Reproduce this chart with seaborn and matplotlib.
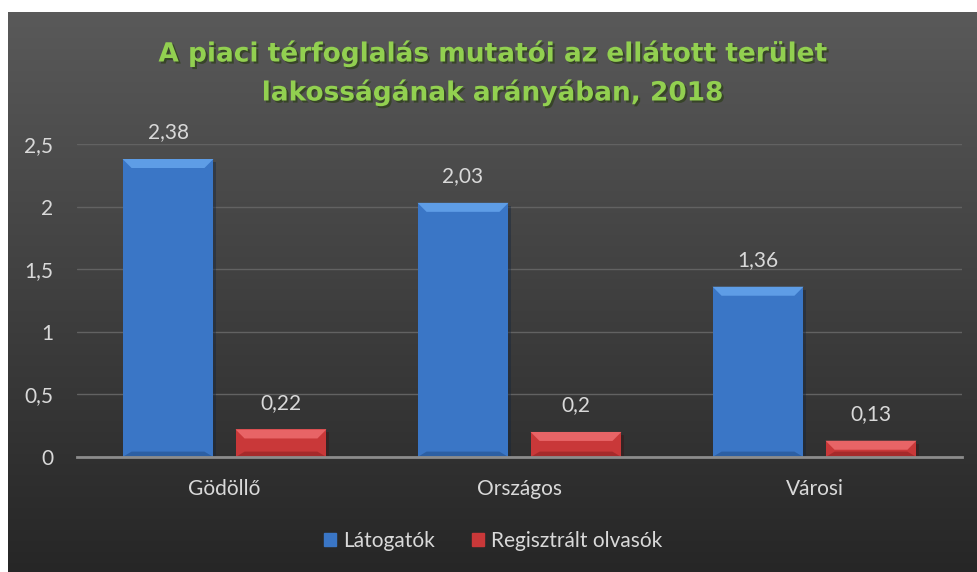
import numpy as np
import pandas as pd
import seaborn as sns
import matplotlib.pyplot as plt
import matplotlib.patheffects as pe
from matplotlib.patches import Polygon

categories = ["Gödöllő", "Országos", "Városi"]
latogatok = [2.38, 2.03, 1.36]
regisztralt = [0.22, 0.2, 0.13]
series = ["Látogatók", "Regisztrált olvasók"]
yticks = [0, 0.5, 1, 1.5, 2, 2.5]

df = pd.DataFrame({
    "kat": categories * 2,
    "ertek": latogatok + regisztralt,
    "sor": [series[0]] * 3 + [series[1]] * 3,
})

szinek = ["#3a76c6", "#c93839"]
vilagos = ["#5e9de6", "#e86466"]
sotet = ["#24508c", "#8e2223"]

sns.set_theme(style="dark")
plt.rcParams['font.family'] = ['Lato', 'DejaVu Sans']

fig = plt.figure(figsize=(9.78, 5.72), dpi=100, facecolor="white")

# dark gradient background (white strip at top and left like the reference)
bg = fig.add_axes([8 / 978, 0, 970 / 978, 560 / 572], zorder=-10)
grad = np.linspace(0.35, 0.15, 256).reshape(-1, 1)
bg.imshow(np.dstack([grad, grad, grad]), aspect="auto", extent=[0, 1, 0, 1])
bg.set_axis_off()

ax = fig.add_axes([77 / 978, (572 - 457) / 572, 885 / 978, 313 / 572])
ax.patch.set_alpha(0)
sns.barplot(data=df, x="kat", y="ertek", hue="sor", ax=ax,
            palette=szinek, width=0.766, gap=0.196,
            saturation=1, edgecolor="none", legend=False)

ax.set_ylim(0, 2.5)
ax.set_yticks(yticks)
ax.set_yticklabels([f"{v:g}".replace(".", ",") for v in yticks])
ax.set_xlabel("")
ax.set_ylabel("")
ax.tick_params(axis="both", colors="#d9d9d9", labelsize=15, length=0)
ax.tick_params(axis="y", pad=17)
ax.tick_params(axis="x", pad=16)
ax.grid(axis="y", color="#626262", linewidth=1)
ax.set_axisbelow(True)
for s in ["top", "right", "left"]:
    ax.spines[s].set_visible(False)
ax.spines["bottom"].set_color("#8c8c8c")
ax.spines["bottom"].set_linewidth(2)

# bevel: lighter top edge, darker bottom, in pixel-sized bands
px_x = 1 / 295.0
px_y = 2.5 / 313.0
for i, cont in enumerate(ax.containers):
    vals = [b.get_height() for b in cont]
    ax.bar_label(cont, labels=[f"{v:g}".replace(".", ",") for v in vals],
                 padding=12, color="#d9d9d9", fontsize=15)
    for b in cont:
        x0, w, h = b.get_x(), b.get_width(), b.get_height()
        dx, dy = 9 * px_x, 9 * px_y
        ax.add_patch(Polygon([(x0, h), (x0 + w, h), (x0 + w - dx, h - dy), (x0 + dx, h - dy)],
                             closed=True, color=vilagos[i], lw=0))
        ax.add_patch(Polygon([(x0, 0), (x0 + w, 0), (x0 + w - dx, dy * 0.6), (x0 + dx, dy * 0.6)],
                             closed=True, color=sotet[i], lw=0, alpha=0.6))
        b.set_path_effects([pe.withSimplePatchShadow(offset=(2, -2), alpha=0.4)])

fig.text(493 / 978, 1 - 73 / 572,
         "A piaci térfoglalás mutatói az ellátott terület\nlakosságának arányában, 2018",
         ha="center", va="center", fontsize=19, fontweight="bold",
         family=["DejaVu Sans"],
         color="#92d050", linespacing=1.5,
         path_effects=[pe.withSimplePatchShadow(offset=(1.5, -1.5), alpha=0.7)])

handles = [plt.Rectangle((0, 0), 1, 1, color=c) for c in szinek]
leg = fig.legend(handles, series, loc="center", bbox_to_anchor=(493 / 978, 1 - 541 / 572),
                 ncol=2, frameon=False, fontsize=15, handlelength=0.6,
                 handleheight=0.6, handletextpad=0.3, columnspacing=1.8)
for t in leg.get_texts():
    t.set_color("#d9d9d9")

plt.savefig("out.png", dpi=100)
